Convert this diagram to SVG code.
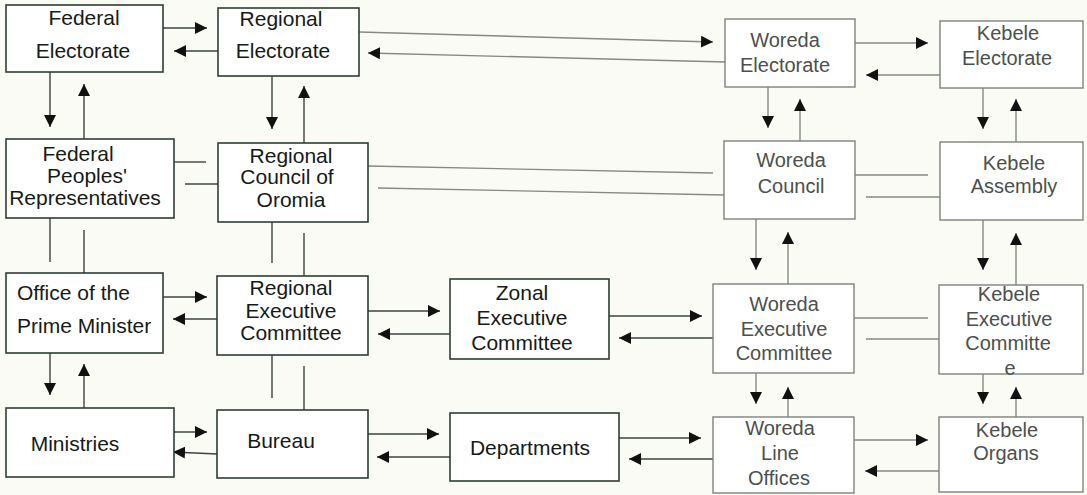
<svg xmlns="http://www.w3.org/2000/svg" width="1087" height="495" viewBox="0 0 1087 495">
  <defs>
    <style>
      .box { fill: #ffffff; stroke: #2f3d33; stroke-width: 1.6; }
      .box.lt { stroke: #7d837c; stroke-width: 1.4; }
      .t { font-family: "Liberation Sans", Arial, sans-serif; font-size: 21px; fill: #151a16; text-anchor: middle; }
      .t.lt { font-size: 20px; fill: #4b504b; }
      .t.start { text-anchor: start; }
      .c { fill: none; stroke: #3a463d; stroke-width: 1.4; }
      .c.lt { stroke: #858a84; }
      .a { marker-end: url(#head); }
    </style>
    <marker id="head" viewBox="0 0 12 12" refX="12" refY="6" markerWidth="12" markerHeight="12" markerUnits="userSpaceOnUse" orient="auto">
      <path d="M0,0 L12,6 L0,12 Z" fill="#111"/>
    </marker>
  </defs>

  <rect width="1087" height="495" fill="#fbfbf6"/>

  <!-- connectors -->
  <g id="connectors">
    <!-- electorate row -->
    <path class="c a" d="M163,28 H207"/>
    <path class="c a" d="M218,51 H174"/>
    <path class="c lt a" d="M359,32 L713,42"/>
    <path class="c lt a" d="M725,62 L368,53"/>
    <path class="c lt a" d="M855,43 H928"/>
    <path class="c lt a" d="M940,75 H866"/>
    <!-- electorate to council -->
    <path class="c a" d="M50,72 V127"/>
    <path class="c a" d="M84,139 V84"/>
    <path class="c a" d="M272,76 V129"/>
    <path class="c a" d="M304,143 V86"/>
    <path class="c lt a" d="M768,87 V128"/>
    <path class="c lt a" d="M800,141 V99"/>
    <path class="c lt a" d="M983,88 V129"/>
    <path class="c lt a" d="M1016,142 V99"/>
    <!-- council row -->
    <path class="c" d="M174,162 H206"/>
    <path class="c" d="M185,184 H218"/>
    <path class="c lt" d="M368,166 L713,173"/>
    <path class="c lt" d="M378,188 L724,195"/>
    <path class="c lt" d="M855,175 H928"/>
    <path class="c lt" d="M866,197 H940"/>
    <!-- council to executive -->
    <path class="c" d="M50,218 V262"/>
    <path class="c" d="M84,230 V273"/>
    <path class="c" d="M272,222 V263"/>
    <path class="c" d="M304,233 V276"/>
    <path class="c lt a" d="M756,219 V270"/>
    <path class="c lt a" d="M788,284 V232"/>
    <path class="c lt a" d="M983,220 V270"/>
    <path class="c lt a" d="M1016,285 V233"/>
    <!-- executive row -->
    <path class="c a" d="M163,297 H207"/>
    <path class="c a" d="M217,319 H173"/>
    <path class="c a" d="M368,311 H440"/>
    <path class="c a" d="M450,334 H378"/>
    <path class="c a" d="M609,316 H702"/>
    <path class="c a" d="M713,338 H619"/>
    <path class="c lt" d="M854,318 H928"/>
    <path class="c lt" d="M866,339 H939"/>
    <!-- executive to line organs -->
    <path class="c a" d="M50,353 V395"/>
    <path class="c a" d="M84,408 V364"/>
    <path class="c" d="M272,355 V398"/>
    <path class="c" d="M304,366 V410"/>
    <path class="c lt a" d="M756,373 V404"/>
    <path class="c lt a" d="M788,417 V387"/>
    <path class="c lt a" d="M983,374 V404"/>
    <path class="c lt a" d="M1016,417 V387"/>
    <!-- line organ row -->
    <path class="c a" d="M174,432 H207"/>
    <path class="c a" d="M217,454 L173,452"/>
    <path class="c a" d="M368,434 H439"/>
    <path class="c a" d="M450,457 H377"/>
    <path class="c a" d="M619,438 H701"/>
    <path class="c a" d="M713,459 H629"/>
    <path class="c lt a" d="M854,440 H928"/>
    <path class="c lt a" d="M939,471 H865"/>
  </g>

  <!-- nodes -->
  <g id="federal-electorate">
    <rect class="box" x="6" y="5" width="157" height="67"/>
    <text class="t" x="84" y="25">Federal</text>
    <text class="t" x="83" y="58">Electorate</text>
  </g>
  <g id="regional-electorate">
    <rect class="box" x="218" y="8" width="141" height="68"/>
    <text class="t" x="281" y="26">Regional</text>
    <text class="t" x="283" y="58">Electorate</text>
  </g>
  <g id="woreda-electorate">
    <rect class="box lt" x="725" y="19" width="130" height="68"/>
    <text class="t lt" x="785" y="47">Woreda</text>
    <text class="t lt" x="785" y="72">Electorate</text>
  </g>
  <g id="kebele-electorate">
    <rect class="box lt" x="940" y="21" width="143" height="67"/>
    <text class="t lt" x="1008" y="40">Kebele</text>
    <text class="t lt" x="1007" y="65">Electorate</text>
  </g>

  <g id="federal-peoples-representatives">
    <rect class="box" x="6" y="139" width="168" height="79"/>
    <text class="t" x="78" y="161">Federal</text>
    <text class="t" x="87" y="183">Peoples'</text>
    <text class="t" x="85" y="205">Representatives</text>
  </g>
  <g id="regional-council">
    <rect class="box" x="218" y="143" width="150" height="79"/>
    <text class="t" x="291" y="163">Regional</text>
    <text class="t" x="287" y="184">Council of</text>
    <text class="t" x="291" y="207">Oromia</text>
  </g>
  <g id="woreda-council">
    <rect class="box lt" x="724" y="141" width="131" height="78"/>
    <text class="t lt" x="791" y="167">Woreda</text>
    <text class="t lt" x="791" y="193">Council</text>
  </g>
  <g id="kebele-assembly">
    <rect class="box lt" x="940" y="142" width="143" height="78"/>
    <text class="t lt" x="1014" y="170">Kebele</text>
    <text class="t lt" x="1014" y="193">Assembly</text>
  </g>

  <g id="office-of-the-prime-minister">
    <rect class="box" x="6" y="273" width="157" height="80"/>
    <text class="t start" x="17" y="300">Office of the</text>
    <text class="t start" x="17" y="333">Prime Minister</text>
  </g>
  <g id="regional-executive-committee">
    <rect class="box" x="217" y="276" width="151" height="79"/>
    <text class="t" x="291" y="295">Regional</text>
    <text class="t" x="291" y="318">Executive</text>
    <text class="t" x="291" y="340">Committee</text>
  </g>
  <g id="zonal-executive-committee">
    <rect class="box" x="450" y="279" width="159" height="80"/>
    <text class="t" x="522" y="300">Zonal</text>
    <text class="t" x="522" y="325">Executive</text>
    <text class="t" x="522" y="350">Committee</text>
  </g>
  <g id="woreda-executive-committee">
    <rect class="box lt" x="713" y="284" width="141" height="89"/>
    <text class="t lt" x="784" y="311">Woreda</text>
    <text class="t lt" x="784" y="336">Executive</text>
    <text class="t lt" x="784" y="360">Committee</text>
  </g>
  <g id="kebele-executive-committee">
    <rect class="box lt" x="939" y="285" width="144" height="89"/>
    <text class="t lt" x="1009" y="301">Kebele</text>
    <text class="t lt" x="1009" y="326">Executive</text>
    <text class="t lt" x="1008" y="350">Committe</text>
    <text class="t lt" x="1010" y="375">e</text>
  </g>

  <g id="ministries">
    <rect class="box" x="6" y="408" width="168" height="69"/>
    <text class="t" x="75" y="451">Ministries</text>
  </g>
  <g id="bureau">
    <rect class="box" x="217" y="410" width="151" height="68"/>
    <text class="t" x="281" y="448">Bureau</text>
  </g>
  <g id="departments">
    <rect class="box" x="450" y="413" width="169" height="68"/>
    <text class="t" x="530" y="455">Departments</text>
  </g>
  <g id="woreda-line-offices">
    <rect class="box lt" x="713" y="417" width="141" height="76"/>
    <text class="t lt" x="780" y="435">Woreda</text>
    <text class="t lt" x="780" y="460">Line</text>
    <text class="t lt" x="779" y="485">Offices</text>
  </g>
  <g id="kebele-organs">
    <rect class="box lt" x="939" y="417" width="144" height="75"/>
    <text class="t lt" x="1007" y="437">Kebele</text>
    <text class="t lt" x="1006" y="460">Organs</text>
  </g>
</svg>
